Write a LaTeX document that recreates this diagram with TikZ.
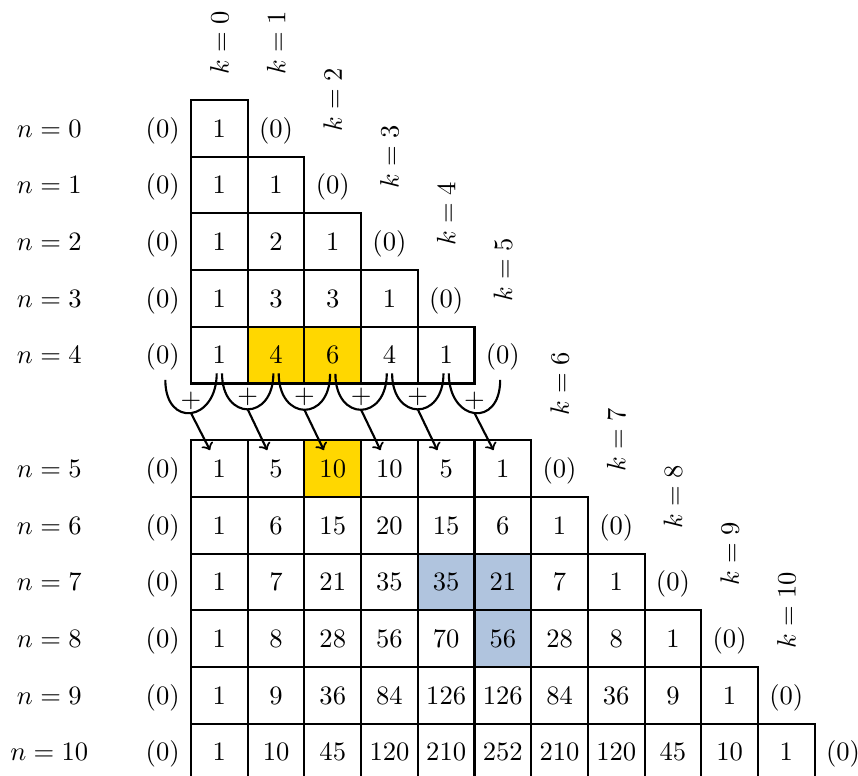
\documentclass[tikz,border=0pt]{standalone}
\usetikzlibrary{calc}
\definecolor{hlgold}{HTML}{FFD700}
\definecolor{hlblue}{HTML}{B0C4DE}
\begin{document}
\begin{tikzpicture}[x=0.75cm,y=0.75cm,
  cellbox/.style={draw, thick},
  num/.style={anchor=base, yshift=-3.3pt},
  arcline/.style={thick},
  sumarrow/.style={thick,->}]
\useasboundingbox (-3.369,1.764) rectangle (11.764,-11.922);
% highlights
\fill[hlgold] (1,-4) rectangle ++(1,-1);
\fill[hlgold] (2,-4) rectangle ++(1,-1);
\fill[hlgold] (2,-6) rectangle ++(1,-1);
\fill[hlblue] (4,-8) rectangle ++(1,-1);
\fill[hlblue] (5,-8) rectangle ++(1,-1);
\fill[hlblue] (5,-9) rectangle ++(1,-1);
% rows
\foreach \n/\vals in {0/{1},1/{1,1},2/{1,2,1},3/{1,3,3,1},4/{1,4,6,4,1},
  5/{1,5,10,10,5,1},6/{1,6,15,20,15,6,1},7/{1,7,21,35,35,21,7,1},
  8/{1,8,28,56,70,56,28,8,1},9/{1,9,36,84,126,126,84,36,9,1},
  10/{1,10,45,120,210,252,210,120,45,10,1}}{
  \pgfmathtruncatemacro\s{\n<5 ? \n : \n+1}
  \foreach \v [count=\i from 0] in \vals {
    \draw[cellbox] (\i,-\s) rectangle ++(1,-1);
    \node[num] (c\n-\i) at (\i+0.5,-\s-0.5) {\v};
  }
  \node[num] (z\n-L) at (-0.5,-\s-0.5) {(0)};
  \node[num] (z\n-R) at (\n+1.5,-\s-0.5) {(0)};
  \node[num] (lab\n) at (-2.5,-\s-0.5) {$n=\n$};
}
% k labels
\foreach \j in {0,...,10}{
  \pgfmathtruncatemacro\Y{\j==0 ? -1 : (\j<6 ? \j-2 : \j-1)}
  \node[rotate=90] (k\j) at (\j+0.5,-\Y) {$k=\j$};
}
% arcs and arrows
\foreach \a/\b [count=\i from 0] in {z4-L/c4-0, c4-0/c4-1, c4-1/c4-2, c4-2/c4-3, c4-3/c4-4, c4-4/z4-R}{
  \draw[arcline] ([xshift=1pt]\a.south) to[out=-90,in=-90,looseness=2.4]
     node[above, inner sep=1pt, pos=0.5] (p\i) {$+$} coordinate[pos=0.5] (m\i)
     ([xshift=-1pt]\b.south);
  \draw[sumarrow] (m\i) -- (c5-\i);
}
\end{tikzpicture}
\end{document}
